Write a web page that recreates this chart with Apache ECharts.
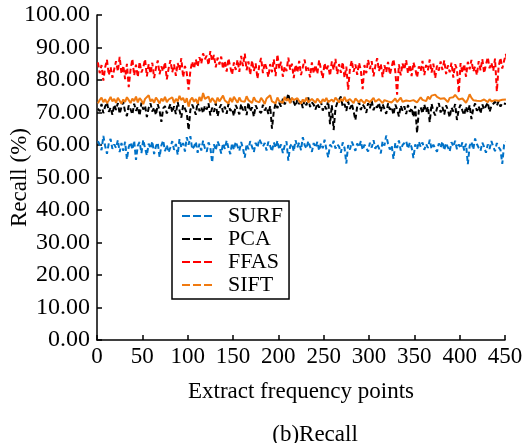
<!DOCTYPE html>
<html>
<head>
<meta charset="utf-8">
<script src="https://cdn.jsdelivr.net/npm/echarts@6/dist/echarts.min.js"></script>
<style>
  html, body { margin: 0; padding: 0; background: #fff; }
  #chart { width: 525px; height: 443px; }
</style>
</head>
<body>
<div id="chart"></div>
<script>
// Recall per extracted frequency point, sampled every 2 points starting at 1
const xStart = 1;
const xStep = 2;

const surf = [
  61.2, 60.1, 58.4, 62.8, 59.7, 57.3, 60.5, 61.9, 58.8, 60.2,
  59.1, 61.5, 57.8, 60.6, 58.2, 61.0, 55.6, 59.4, 60.8, 58.6,
  61.3, 55.4, 59.8, 60.9, 57.5, 61.6, 59.0, 56.8, 60.4, 58.9,
  61.1, 57.2, 59.6, 60.7, 56.3, 59.9, 61.4, 58.1, 60.0, 57.7,
  59.3, 61.2, 58.5, 60.3, 57.0, 61.8, 59.2, 60.6, 58.0, 62.4,
  60.1, 62.7, 58.7, 59.5, 61.0, 57.6, 60.4, 58.3, 61.3, 59.0,
  57.9, 60.8, 59.3, 54.6, 60.2, 58.4, 61.1, 59.7, 57.4, 60.5,
  58.8, 61.4, 59.1, 57.2, 60.6, 58.5, 61.0, 59.6, 58.2, 60.9,
  59.0, 56.1, 60.3, 58.7, 61.2, 59.4, 57.8, 60.7, 59.2, 61.8,
  62.1, 59.5, 60.6, 58.3, 61.0, 59.7, 58.0, 60.8, 59.1, 61.3,
  58.6, 60.2, 57.5, 59.8, 61.1, 55.2, 59.6, 60.4, 58.1, 61.5,
  59.3, 60.7, 58.4, 62.4, 60.0, 58.9, 61.2, 59.5, 57.9, 60.6,
  59.2, 61.0, 58.3, 60.5, 59.0, 61.6, 58.7, 56.2, 60.1, 59.4,
  61.3, 58.9, 60.2, 59.5, 57.6, 60.8, 59.1, 54.3, 60.0, 58.6,
  61.0, 59.7, 58.2, 60.5, 59.3, 61.2, 58.5, 60.1, 59.6, 58.0,
  60.7, 59.2, 61.5, 58.8, 60.3, 59.0, 57.4, 61.1, 59.8, 62.9,
  60.4, 58.6, 59.9, 55.7, 60.6, 59.1, 61.4, 58.3, 60.0, 59.5,
  61.2, 58.9, 60.7, 59.3, 56.0, 60.2, 58.7, 61.0, 59.4, 60.8,
  58.5, 60.3, 59.1, 61.6, 58.8, 60.1, 59.7, 57.9, 60.5, 59.2,
  61.1, 58.4, 60.6, 59.3, 58.0, 60.9, 59.5, 61.3, 58.7, 60.2,
  59.0, 60.8, 58.3, 60.4, 54.1, 59.7, 61.0, 58.6, 62.0, 60.3,
  59.1, 58.2, 60.7, 59.4, 57.6, 60.2, 58.8, 61.2, 59.5, 58.1,
  60.6, 59.3, 58.5, 54.2, 60.1, 61.0
];

const pca = [
  71.2, 70.4, 72.6, 69.8, 71.9, 73.1, 70.2, 71.5, 69.3, 72.4,
  70.8, 72.9, 69.6, 71.7, 73.3, 70.1, 68.9, 72.2, 71.0, 69.4,
  72.7, 70.5, 71.8, 69.0, 73.0, 70.9, 72.1, 68.6, 71.4, 72.8,
  70.3, 71.6, 69.2, 72.5, 70.6, 67.1, 71.3, 72.0, 69.7, 71.1,
  72.6, 70.0, 71.9, 69.5, 73.2, 70.7, 68.4, 72.3, 71.2, 69.9,
  64.6, 70.8, 72.4, 71.0, 69.3, 73.4, 70.4, 71.7, 69.8, 72.1,
  70.9, 72.8, 69.1, 71.5, 70.2, 72.9, 68.8, 71.3, 72.5, 70.1,
  71.8, 69.6, 72.7, 70.5, 71.2, 68.9, 72.3, 71.0, 69.4, 72.6,
  70.7, 71.9, 69.2, 73.1, 70.3, 71.6, 68.7, 72.2, 70.9, 71.4,
  69.8, 72.4, 70.6, 71.7, 69.5, 72.0, 65.0, 70.4, 72.8, 71.3,
  73.0, 71.8, 74.2, 72.5, 73.6, 75.8, 72.9, 74.4, 73.2, 71.9,
  74.0, 72.6, 73.5, 71.4, 73.8, 72.2, 74.6, 71.7, 73.1, 72.4,
  70.9, 72.8, 71.5, 73.3, 70.6, 72.1, 71.0, 73.7, 66.4, 72.3,
  64.6, 71.2, 73.0, 72.4, 74.9, 71.8, 72.6, 70.5, 73.4, 71.1,
  72.7, 70.4, 67.7, 71.9, 73.2, 70.8, 72.5, 71.6, 69.9, 72.9,
  71.3, 73.6, 70.7, 72.2, 71.5, 73.0, 70.3, 72.6, 71.1, 69.6,
  72.8, 70.9, 71.7, 69.3, 72.4, 71.0, 68.8, 72.1, 70.6, 71.9,
  69.5, 72.3, 70.2, 71.4, 68.6, 72.0, 63.7, 70.8, 71.6, 69.7,
  72.5, 70.1, 71.8, 67.0, 72.7, 70.4, 69.1, 71.3, 72.9, 70.0,
  71.7, 69.4, 72.2, 70.8, 68.5, 71.5, 70.3, 72.6, 67.7, 71.0,
  72.4, 70.6, 69.2, 71.8, 70.0, 72.3, 68.0, 71.2, 72.8, 70.5,
  71.9, 69.7, 72.5, 70.9, 71.4, 73.1, 70.2, 72.0, 71.6, 73.3,
  72.1, 73.5, 71.8, 72.9, 73.4, 72.6
];

const ffas = [
  85.4, 82.1, 84.6, 79.8, 83.9, 86.2, 81.5, 84.0, 80.7, 83.3,
  85.8, 82.6, 87.1, 81.9, 84.4, 80.3, 85.0, 77.8, 83.2, 86.5,
  81.4, 84.7, 80.9, 85.6, 82.3, 83.8, 86.4, 81.1, 84.9, 82.0,
  85.3, 80.6, 83.7, 86.0, 81.8, 84.2, 82.7, 85.5, 80.2, 83.6,
  86.1, 82.4, 84.8, 81.3, 85.2, 83.0, 86.7, 80.8, 84.3, 82.2,
  77.0, 82.9, 85.7, 83.5, 86.3, 84.1, 87.0, 85.0, 88.2, 86.4,
  87.5, 84.6, 88.9, 85.8, 87.7, 83.9, 86.9, 84.8, 87.2, 83.4,
  85.9, 82.6, 86.6, 84.0, 81.7, 85.4, 83.1, 86.2, 82.5, 87.4,
  84.3, 88.1, 83.0, 85.7, 81.6, 86.0, 82.8, 85.1, 80.4, 84.5,
  86.8, 82.1, 85.3, 83.6, 80.9, 84.9, 82.4, 86.4, 81.2, 87.9,
  83.5, 85.6, 81.0, 84.2, 82.7, 86.9, 83.2, 85.0, 80.6, 84.7,
  82.3, 85.9, 81.5, 84.0, 86.3, 82.6, 83.8, 80.8, 85.4, 82.0,
  84.6, 81.9, 86.1, 83.3, 80.5, 85.2, 82.9, 84.4, 81.3, 85.7,
  83.1, 86.5, 81.8, 84.9, 82.2, 85.5, 80.7, 84.1, 77.0, 83.6,
  86.0, 82.5, 84.8, 81.6, 85.3, 83.0, 77.2, 84.6, 82.1, 86.2,
  83.4, 85.8, 81.1, 84.3, 86.7, 82.8, 85.0, 80.9, 84.5, 82.4,
  85.6, 81.7, 84.0, 86.4, 82.6, 75.5, 84.8, 81.4, 85.1, 83.2,
  86.1, 82.0, 84.7, 81.2, 85.4, 83.5, 80.8, 84.2, 82.7, 85.9,
  81.5, 84.6, 83.0, 86.3, 82.3, 85.0, 80.6, 84.4, 82.9, 85.7,
  83.1, 86.0, 81.8, 84.5, 82.4, 85.3, 80.7, 84.8, 83.4, 76.0,
  85.2, 82.2, 84.9, 81.0, 85.6, 83.3, 86.2, 82.6, 84.1, 81.5,
  85.8, 83.0, 86.4, 82.1, 84.7, 87.0, 83.6, 85.3, 82.8, 86.6,
  76.5, 84.2, 86.8, 83.5, 85.9, 88.0, 84.5, 87.3, 85.1, 83.7,
  86.3, 84.0
];

const sift = [
  72.8, 73.9, 74.6, 73.2, 74.1, 72.9, 73.7, 74.8, 73.4, 74.2,
  73.0, 74.5, 73.6, 72.7, 74.0, 73.3, 74.7, 73.8, 72.9, 74.3,
  73.5, 74.9, 73.1, 74.4, 73.7, 72.6, 74.2, 73.9, 75.3, 73.4,
  74.1, 73.0, 74.6, 73.8, 72.8, 74.3, 73.5, 74.8, 73.2, 74.0,
  73.6, 74.7, 72.9, 74.2, 73.4, 75.1, 73.8, 74.5, 73.0, 74.4,
  71.8, 73.9, 74.6, 73.3, 74.1, 72.7, 74.8, 73.5, 76.0, 74.2,
  73.6, 74.9, 73.1, 74.4, 73.8, 72.9, 74.6, 73.4, 74.0, 75.2,
  73.7, 74.3, 72.8, 74.5, 73.2, 74.8, 73.9, 73.0, 74.6, 73.5,
  74.1, 73.3, 75.0, 73.8, 74.4, 72.9, 74.7, 73.6, 74.2, 73.1,
  74.5, 73.7, 72.6, 74.3, 73.9, 75.3, 73.4, 74.0, 72.8, 74.6,
  73.5, 74.1, 73.0, 74.8, 73.6, 74.3, 72.9, 74.5, 73.8, 73.2,
  74.4, 73.5, 72.7, 74.0, 73.3, 74.6, 73.1, 72.8, 74.2, 73.6,
  73.0, 74.3, 73.8, 72.9, 74.1, 73.4, 74.5, 73.2, 73.7, 74.0,
  73.3, 74.6, 73.9, 73.1, 74.2, 73.5, 74.8, 73.4, 73.0, 74.1,
  73.6, 72.9, 74.3, 73.7, 73.1, 74.0, 73.4, 72.8, 73.9, 74.4,
  73.2, 73.8, 74.5, 73.3, 73.7, 74.1, 73.5, 72.9, 73.8, 74.2,
  73.4, 74.0, 73.1, 73.6, 74.3, 73.2, 73.9, 74.6, 73.3, 72.8,
  73.7, 74.2, 73.5, 72.9, 73.8, 74.4, 73.1, 73.6, 74.7, 73.9,
  74.3, 73.5, 74.9, 74.1, 75.2, 74.6, 75.5, 74.8, 75.0, 74.2,
  73.6, 74.4, 73.8, 73.2, 74.5, 75.1, 74.7, 75.4, 74.9, 74.0,
  73.4, 74.3, 73.7, 73.0, 74.1, 75.6, 74.5, 73.8, 74.4, 73.6,
  74.2, 73.5, 73.0, 74.0, 73.6, 73.2, 74.1, 73.4, 72.9, 73.8,
  74.3, 73.6, 73.1, 73.9, 73.5, 74.0
];

const yTicks = [0, 10, 20, 30, 40, 50, 60, 70, 80, 90, 100];
const xTicks = [0, 50, 100, 150, 200, 250, 300, 350, 400, 450];

const seriesDefs = [
  { name: 'SURF', values: surf, color: '#0072c8' },
  { name: 'PCA',  values: pca,  color: '#000000' },
  { name: 'FFAS', values: ffas, color: '#ff0000' },
  { name: 'SIFT', values: sift, color: '#f07a10', solid: true }
];

function toPairs(values) {
  return values.map((v, i) => [xStart + i * xStep, v]);
}

const FONT = '"Liberation Serif", "Times New Roman", serif';
// three short dashes used as the legend key
const DASH_ICON = 'path://M0,0h8v2h-8z M11,0h8v2h-8z M22,0h8v2h-8z';

const chart = echarts.init(document.getElementById('chart'), null, { renderer: 'canvas' });

chart.setOption({
  animation: false,
  backgroundColor: '#ffffff',
  textStyle: { fontFamily: FONT, color: '#000' },
  grid: { left: 97, right: 20, top: 15, bottom: 103, containLabel: false, outerBoundsMode: 'none' },
  title: {
    text: '(b)Recall',
    left: 310, top: 418, textAlign: 'center',
    textStyle: { fontFamily: FONT, fontSize: 23, fontWeight: 'normal', color: '#000' }
  },
  legend: {
    orient: 'vertical',
    left: 172, top: 201,
    padding: [4, 6, 3, 10],
    itemGap: 1,
    itemWidth: 30, itemHeight: 2,
    borderColor: '#000', borderWidth: 1.5,
    backgroundColor: '#fff',
    icon: DASH_ICON,
    data: seriesDefs.map(s => s.name),
    textStyle: { fontFamily: FONT, fontSize: 22, lineHeight: 22, color: '#000', padding: [0, 0, 0, 11] }
  },
  xAxis: {
    type: 'value',
    min: xTicks[0], max: xTicks[xTicks.length - 1], interval: 50,
    name: 'Extract frequency points',
    nameLocation: 'middle', nameGap: 40, nameMoveOverlap: false,
    nameTextStyle: { fontFamily: FONT, fontSize: 23, color: '#000' },
    axisLine: { show: true, lineStyle: { color: '#000', width: 1.5 } },
    axisTick: { show: true, inside: true, length: 5, lineStyle: { color: '#000', width: 1.5 } },
    axisLabel: { fontFamily: FONT, fontSize: 23, color: '#000', margin: 5 },
    splitLine: { show: false }
  },
  yAxis: {
    type: 'value',
    min: yTicks[0], max: yTicks[yTicks.length - 1], interval: 10,
    name: 'Recall (%)',
    nameLocation: 'middle', nameGap: 66, nameMoveOverlap: false,
    nameTextStyle: { fontFamily: FONT, fontSize: 23, color: '#000' },
    axisLine: { show: true, lineStyle: { color: '#000', width: 1.5 } },
    axisTick: { show: true, inside: true, length: 5, lineStyle: { color: '#000', width: 1.5 } },
    axisLabel: { fontFamily: FONT, fontSize: 24, color: '#000', margin: 7,
                 formatter: v => v.toFixed(2) },
    splitLine: { show: false }
  },
  series: seriesDefs.map(s => ({
    name: s.name,
    type: 'line',
    data: toPairs(s.values),
    showSymbol: false,
    symbol: 'none',
    clip: false,
    color: s.color,
    lineStyle: { color: s.color, width: 2, type: s.solid ? 'solid' : [5, 3] },
    itemStyle: { color: s.color }
  }))
});
</script>
</body>
</html>
